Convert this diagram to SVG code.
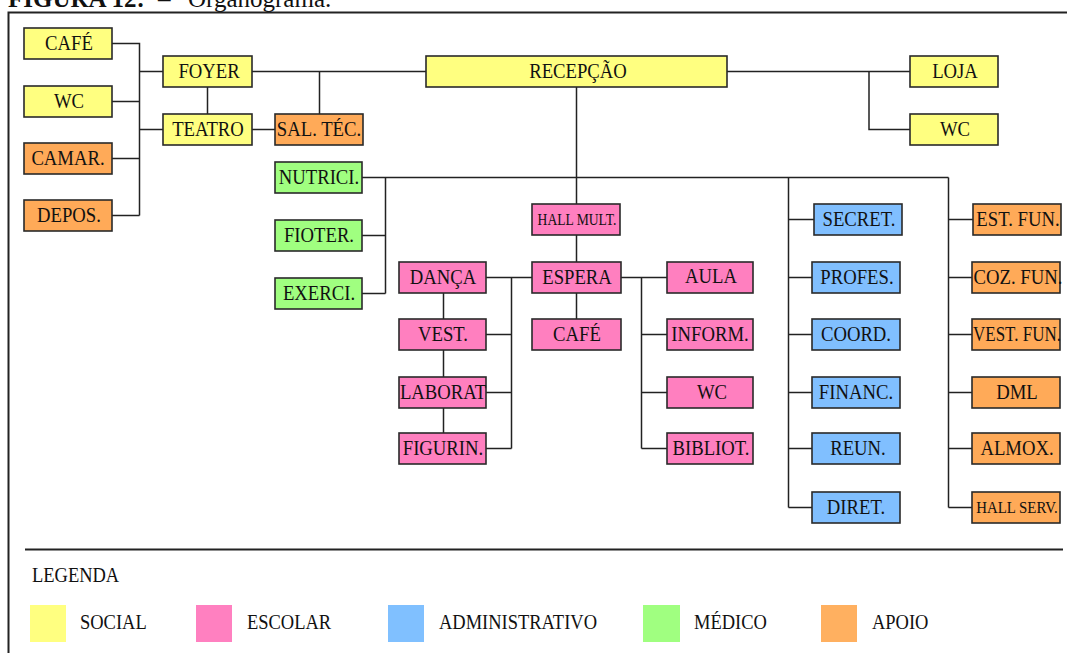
<svg xmlns="http://www.w3.org/2000/svg" width="1067" height="653" viewBox="0 0 1067 653">
  <style>
    text { font-family: "Liberation Serif", "Times New Roman", serif; fill: #111; }
    .lbl { font-size: 22px; text-anchor: middle; transform-box: fill-box; transform-origin: center; transform: scaleX(0.85); }
    .sm { font-size: 16px; }
    .sm2 { font-size: 17.5px; }
    .lg { font-size: 21px; transform-box: fill-box; transform-origin: 0 50%; transform: scaleX(0.88); }
    .box rect { stroke: #2a2a2a; stroke-width: 1.6; }
    .soc rect { fill: #ffff80; }
    .esc rect { fill: #ff7fbf; }
    .adm rect { fill: #80bfff; }
    .med rect { fill: #a0ff80; }
    .apo rect { fill: #ffaa58; }
    #connectors path { fill: none; stroke: #222; stroke-width: 1.5; }
  </style>

  <rect width="1067" height="653" fill="#fff"/>

  <!-- caption, cut off at the top edge -->
  <text x="8" y="7" style="font-size:25px"><tspan font-weight="bold">FIGURA 12:</tspan><tspan x="158">–</tspan><tspan x="188">Organograma.</tspan></text>

  <!-- outer frame -->
  <rect x="8.5" y="12.5" width="1080" height="660" fill="none" stroke="#222" stroke-width="2"/>

  <!-- connectors -->
  <g id="connectors">
    <path d="M112 43.5H139.5V215.5M112 101.5H139.5M112 158.5H139.5M112 215.5H139.5M139.5 71.5H163M139.5 129.5H163"/>
    <path d="M207.5 87V114M252 129.5H275M252 71.5H426M319.5 71.5V114"/>
    <path d="M727 71.5H910M869 71.5V129.5H910"/>
    <path d="M576.5 87V204M362 177.5H948.5"/>
    <path d="M385.5 177.5V293.5M362 235.5H385.5M362 293.5H385.5"/>
    <path d="M576.5 235V262M576.5 293V319"/>
    <path d="M486 277.5H532M511.5 277.5V448.5M486 334.5H511.5M486 392.5H511.5M486 448.5H511.5"/>
    <path d="M443.5 293V319M443.5 350V377M443.5 408V433"/>
    <path d="M621 277.5H667M641.5 277.5V448.5M641.5 334.5H667M641.5 392.5H667M641.5 448.5H667"/>
    <path d="M788.5 177.5V507.5M788.5 219.5H814M788.5 277.5H812M788.5 334.5H812M788.5 392.5H812M788.5 448.5H812M788.5 507.5H812"/>
    <path d="M948.5 177.5V507.5M948.5 219.5H973M948.5 277.5H972M948.5 334.5H972M948.5 392.5H972M948.5 448.5H972M948.5 507.5H972"/>
  </g>

  <!-- social -->
  <g id="cafe" class="box soc"><rect x="24" y="28" width="88" height="31"/><text class="lbl" x="69" y="50">CAFÉ</text></g>
  <g id="wc-social" class="box soc"><rect x="24" y="86" width="88" height="31"/><text class="lbl" x="69" y="108">WC</text></g>
  <g id="foyer" class="box soc"><rect x="163" y="56" width="89" height="31"/><text class="lbl" x="209" y="78">FOYER</text></g>
  <g id="teatro" class="box soc"><rect x="163" y="114" width="89" height="31"/><text class="lbl" x="208" y="136">TEATRO</text></g>
  <g id="recepcao" class="box soc"><rect x="426" y="56" width="301" height="31"/><text class="lbl" x="578" y="78">RECEPÇÃO</text></g>
  <g id="loja" class="box soc"><rect x="910" y="56" width="88" height="31"/><text class="lbl" x="955" y="78">LOJA</text></g>
  <g id="wc-loja" class="box soc"><rect x="910" y="114" width="88" height="31"/><text class="lbl" x="955" y="136">WC</text></g>

  <!-- apoio -->
  <g id="camar" class="box apo"><rect x="24" y="143" width="88" height="31"/><text class="lbl" x="68" y="165">CAMAR.</text></g>
  <g id="depos" class="box apo"><rect x="24" y="200" width="88" height="31"/><text class="lbl" x="69" y="222">DEPOS.</text></g>
  <g id="sal-tec" class="box apo"><rect x="275" y="114" width="88" height="31"/><text class="lbl" x="319" y="136">SAL. TÉC.</text></g>
  <g id="est-fun" class="box apo"><rect x="973" y="204" width="88" height="31"/><text class="lbl" x="1018" y="226">EST. FUN.</text></g>
  <g id="coz-fun" class="box apo"><rect x="972" y="262" width="88" height="31"/><text class="lbl" x="1018" y="284">COZ. FUN.</text></g>
  <g id="vest-fun" class="box apo"><rect x="972" y="319" width="88" height="31"/><text class="lbl" x="1017" y="341" style="font-size:20px">VEST. FUN.</text></g>
  <g id="dml" class="box apo"><rect x="972" y="377" width="88" height="31"/><text class="lbl" x="1017" y="399">DML</text></g>
  <g id="almox" class="box apo"><rect x="972" y="433" width="88" height="31"/><text class="lbl" x="1017" y="455">ALMOX.</text></g>
  <g id="hall-serv" class="box apo"><rect x="972" y="492" width="88" height="31"/><text class="lbl sm2" x="1017" y="513">HALL SERV.</text></g>

  <!-- medico -->
  <g id="nutrici" class="box med"><rect x="275" y="162" width="87" height="31"/><text class="lbl" x="319" y="184">NUTRICI.</text></g>
  <g id="fioter" class="box med"><rect x="275" y="220" width="87" height="31"/><text class="lbl" x="319" y="242">FIOTER.</text></g>
  <g id="exerci" class="box med"><rect x="275" y="278" width="87" height="31"/><text class="lbl" x="319" y="300">EXERCI.</text></g>

  <!-- escolar -->
  <g id="hall-mult" class="box esc"><rect x="532" y="204" width="88" height="31"/><text class="lbl sm" x="577" y="225">HALL MULT.</text></g>
  <g id="espera" class="box esc"><rect x="532" y="262" width="89" height="31"/><text class="lbl" x="577" y="284">ESPERA</text></g>
  <g id="cafe-escolar" class="box esc"><rect x="532" y="319" width="89" height="31"/><text class="lbl" x="577" y="341">CAFÉ</text></g>
  <g id="danca" class="box esc"><rect x="399" y="262" width="87" height="31"/><text class="lbl" x="443" y="284">DANÇA</text></g>
  <g id="vest" class="box esc"><rect x="399" y="319" width="87" height="31"/><text class="lbl" x="443" y="341">VEST.</text></g>
  <g id="laborat" class="box esc"><rect x="399" y="377" width="87" height="31"/><text class="lbl" x="443" y="399">LABORAT</text></g>
  <g id="figurin" class="box esc"><rect x="399" y="433" width="87" height="31"/><text class="lbl" x="443" y="455">FIGURIN.</text></g>
  <g id="aula" class="box esc"><rect x="667" y="262" width="86" height="31"/><text class="lbl" x="711" y="283">AULA</text></g>
  <g id="inform" class="box esc"><rect x="667" y="319" width="86" height="31"/><text class="lbl" x="710" y="341">INFORM.</text></g>
  <g id="wc-escolar" class="box esc"><rect x="667" y="377" width="86" height="31"/><text class="lbl" x="712" y="399">WC</text></g>
  <g id="bibliot" class="box esc"><rect x="667" y="433" width="86" height="31"/><text class="lbl" x="711" y="455">BIBLIOT.</text></g>

  <!-- administrativo -->
  <g id="secret" class="box adm"><rect x="814" y="204" width="88" height="31"/><text class="lbl" x="859" y="226">SECRET.</text></g>
  <g id="profes" class="box adm"><rect x="812" y="262" width="88" height="31"/><text class="lbl" x="857" y="284">PROFES.</text></g>
  <g id="coord" class="box adm"><rect x="812" y="319" width="88" height="31"/><text class="lbl" x="856" y="341">COORD.</text></g>
  <g id="financ" class="box adm"><rect x="812" y="377" width="88" height="31"/><text class="lbl" x="856" y="399">FINANC.</text></g>
  <g id="reun" class="box adm"><rect x="812" y="433" width="88" height="31"/><text class="lbl" x="858" y="455">REUN.</text></g>
  <g id="diret" class="box adm"><rect x="812" y="492" width="88" height="31"/><text class="lbl" x="856" y="514">DIRET.</text></g>

  <!-- legend -->
  <g id="legend">
    <path d="M25 549.5H1063" stroke="#222" stroke-width="2"/>
    <text class="lg" x="32" y="582">LEGENDA</text>
    <rect x="30" y="605" width="36" height="37" fill="#ffff80"/>
    <text class="lg" x="80" y="629">SOCIAL</text>
    <rect x="196" y="605" width="36" height="37" fill="#ff80c0"/>
    <text class="lg" x="247" y="629">ESCOLAR</text>
    <rect x="388" y="605" width="36" height="37" fill="#80c0ff"/>
    <text class="lg" x="439" y="629">ADMINISTRATIVO</text>
    <rect x="643" y="605" width="37" height="37" fill="#a0ff80"/>
    <text class="lg" x="694" y="629">MÉDICO</text>
    <rect x="821" y="605" width="36" height="37" fill="#ffb060"/>
    <text class="lg" x="872" y="629">APOIO</text>
  </g>
</svg>
